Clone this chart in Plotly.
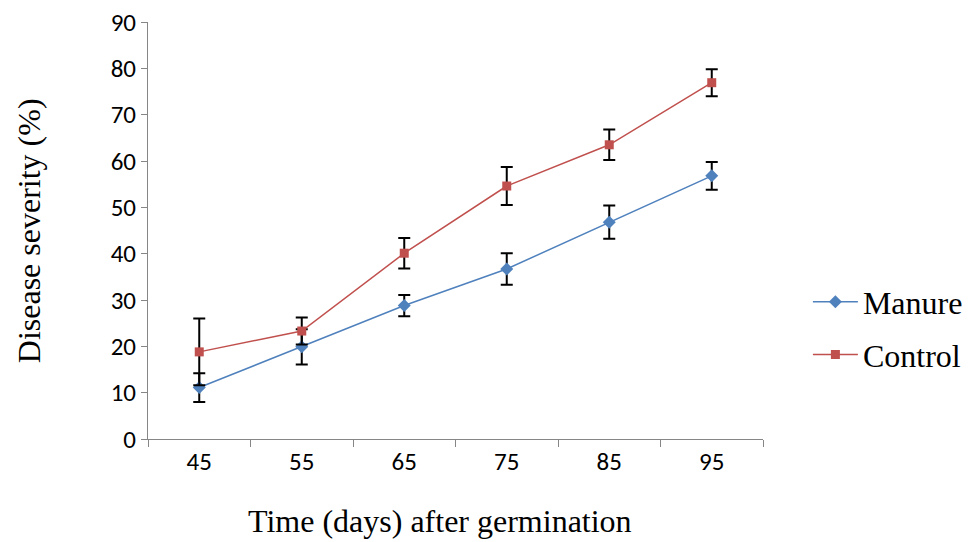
import plotly.graph_objects as go

days = ["45", "55", "65", "75", "85", "95"]
manure = [11.1, 19.9, 28.8, 36.7, 46.8, 56.8]
manure_err = [3.1, 3.8, 2.3, 3.4, 3.6, 3.0]
control = [18.8, 23.3, 40.1, 54.6, 63.5, 76.9]
control_err = [7.2, 2.9, 3.3, 4.1, 3.3, 2.9]
y_ticks = [0, 10, 20, 30, 40, 50, 60, 70, 80, 90]

serif = "Liberation Serif, Times New Roman, serif"
sans = "Carlito, Open Sans, Liberation Sans, sans-serif"

fig = go.Figure()
fig.add_trace(go.Scatter(
    x=days, y=manure, name="Manure", mode="lines+markers",
    line=dict(color="#4F81BD", width=1.5),
    marker=dict(symbol="diamond", size=10, color="#4F81BD"),
    error_y=dict(type="data", array=manure_err, color="black", thickness=2, width=6),
    legendgroup="a",
))
fig.add_trace(go.Scatter(
    x=days, y=control, name="Control", mode="lines+markers",
    line=dict(color="#C0504D", width=1.5),
    marker=dict(symbol="square", size=9, color="#C0504D"),
    error_y=dict(type="data", array=control_err, color="black", thickness=2, width=6),
    legendgroup="b",
))

title_font = dict(family=serif, size=32, color="black")

fig.update_layout(
    width=980, height=542,
    margin=dict(l=148, r=214, t=22, b=103),
    paper_bgcolor="white", plot_bgcolor="white",
    legend=dict(
        x=1.073, y=0.265, xanchor="left", yanchor="middle",
        font=dict(family=serif, size=32, color="black"),
        tracegroupgap=8, itemwidth=45, bgcolor="rgba(0,0,0,0)",
    ),
    xaxis=dict(
        type="category", range=[-0.5, 5.5], automargin=False,
        tickson="boundaries", ticks="outside", ticklen=7, tickcolor="#868686",
        showline=True, linecolor="#868686", linewidth=1,
        showgrid=False, zeroline=False,
        tickfont=dict(family=sans, size=25, color="black"),
    ),
    yaxis=dict(
        range=[0, 90], tickvals=y_ticks, automargin=False,
        ticks="outside", ticklen=6, tickcolor="#868686",
        showline=True, linecolor="#868686", linewidth=1,
        showgrid=False, zeroline=False,
        tickfont=dict(family=sans, size=25, color="black"),
    ),
    annotations=[
        dict(text="Time (days) after germination", font=title_font,
             xref="paper", yref="paper", x=0.475, y=-0.197,
             xanchor="center", yanchor="middle", showarrow=False),
        dict(text="Disease severity (%)", font=title_font, textangle=-90,
             xref="paper", yref="paper", x=-0.194, y=0.5,
             xanchor="center", yanchor="middle", showarrow=False),
    ],
)

fig.write_html("out.html")
